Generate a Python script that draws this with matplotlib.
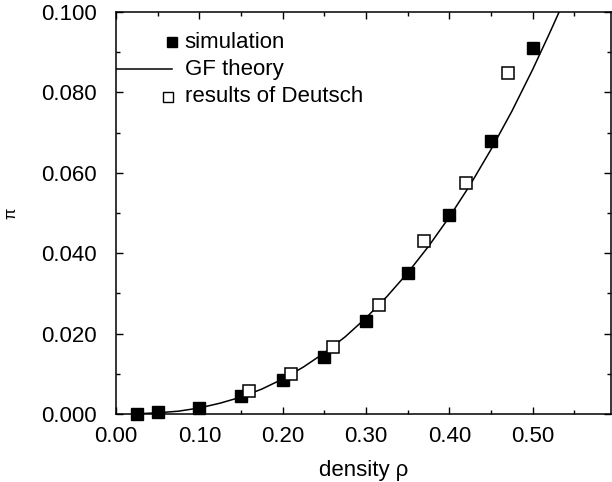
import matplotlib
matplotlib.use('Agg')
import matplotlib.pyplot as plt
from matplotlib.ticker import MultipleLocator, FormatStrFormatter

plt.rcParams['font.family'] = ['Liberation Sans', 'DejaVu Sans']
plt.rcParams['font.size'] = 16

# simulation (filled squares)
sim_x = [0.025, 0.05, 0.10, 0.15, 0.20, 0.25, 0.30, 0.35, 0.40, 0.45, 0.50]
sim_y = [0.0001, 0.0004, 0.0016, 0.0045, 0.0085, 0.0143, 0.0231, 0.0350, 0.0494, 0.0680, 0.0910]

# results of Deutsch (open squares)
deu_x = [0.16, 0.21, 0.26, 0.315, 0.37, 0.42, 0.47]
deu_y = [0.0056, 0.0099, 0.0167, 0.0271, 0.0431, 0.0575, 0.0848]

# GF theory curve
gf_x = [0.03, 0.05, 0.075, 0.10, 0.125, 0.15, 0.175, 0.20, 0.225, 0.25, 0.275,
        0.30, 0.325, 0.35, 0.375, 0.40, 0.425, 0.45, 0.475, 0.50, 0.52, 0.535]
gf_y = [0.0001, 0.0003, 0.0007, 0.0015, 0.0027, 0.0042, 0.0062, 0.0087, 0.0117,
        0.0152, 0.0192, 0.0239, 0.0292, 0.0351, 0.0417, 0.0490, 0.0570, 0.0658,
        0.0753, 0.0857, 0.0946, 0.1015]

xticks = [0.0, 0.1, 0.2, 0.3, 0.4, 0.5]
yticks = [0.0, 0.02, 0.04, 0.06, 0.08, 0.10]

fig = plt.figure(figsize=(6.12, 4.82), dpi=100)
ax = fig.add_axes([116/612, 1 - 414/482, 495/612, 402/482])

ax.plot(gf_x, gf_y, color='black', lw=1.1, zorder=2)
ax.plot(sim_x, sim_y, 's', color='black', ms=9, zorder=3, clip_on=False)
ax.plot(deu_x, deu_y, 's', mfc='white', mec='black', mew=1.1, ms=9, zorder=3)

ax.set_xlim(0, 0.594)
ax.set_ylim(0, 0.1)
ax.set_xticks(xticks)
ax.set_yticks(yticks)
ax.xaxis.set_major_formatter(FormatStrFormatter('%.2f'))
ax.yaxis.set_major_formatter(FormatStrFormatter('%.3f'))
ax.xaxis.set_minor_locator(MultipleLocator(0.05))
ax.yaxis.set_minor_locator(MultipleLocator(0.01))
ax.tick_params(which='both', direction='in', top=True, right=True, width=1)
ax.tick_params(which='major', length=5)
ax.tick_params(which='minor', length=3)
ax.tick_params(axis='y', pad=14)
ax.tick_params(axis='x', pad=9)
for s in ax.spines.values():
    s.set_linewidth(1.1)

ax.set_xlabel('density ρ', labelpad=9)
ax.set_ylabel('π', fontsize=12, labelpad=16)

# legend drawn by hand, like the original
tr = ax.transAxes
ax.plot([0.113], [0.925], 's', color='black', ms=7, transform=tr, clip_on=False)
ax.text(0.139, 0.925, 'simulation', transform=tr, va='center', ha='left')
ax.plot([0.0, 0.113], [0.858, 0.858], color='black', lw=1.1, transform=tr)
ax.text(0.139, 0.858, 'GF theory', transform=tr, va='center', ha='left')
ax.plot([0.105], [0.789], 's', mfc='white', mec='black', mew=1.0, ms=7, transform=tr)
ax.text(0.139, 0.789, 'results of Deutsch', transform=tr, va='center', ha='left')

fig.savefig('out.png', dpi=100)
